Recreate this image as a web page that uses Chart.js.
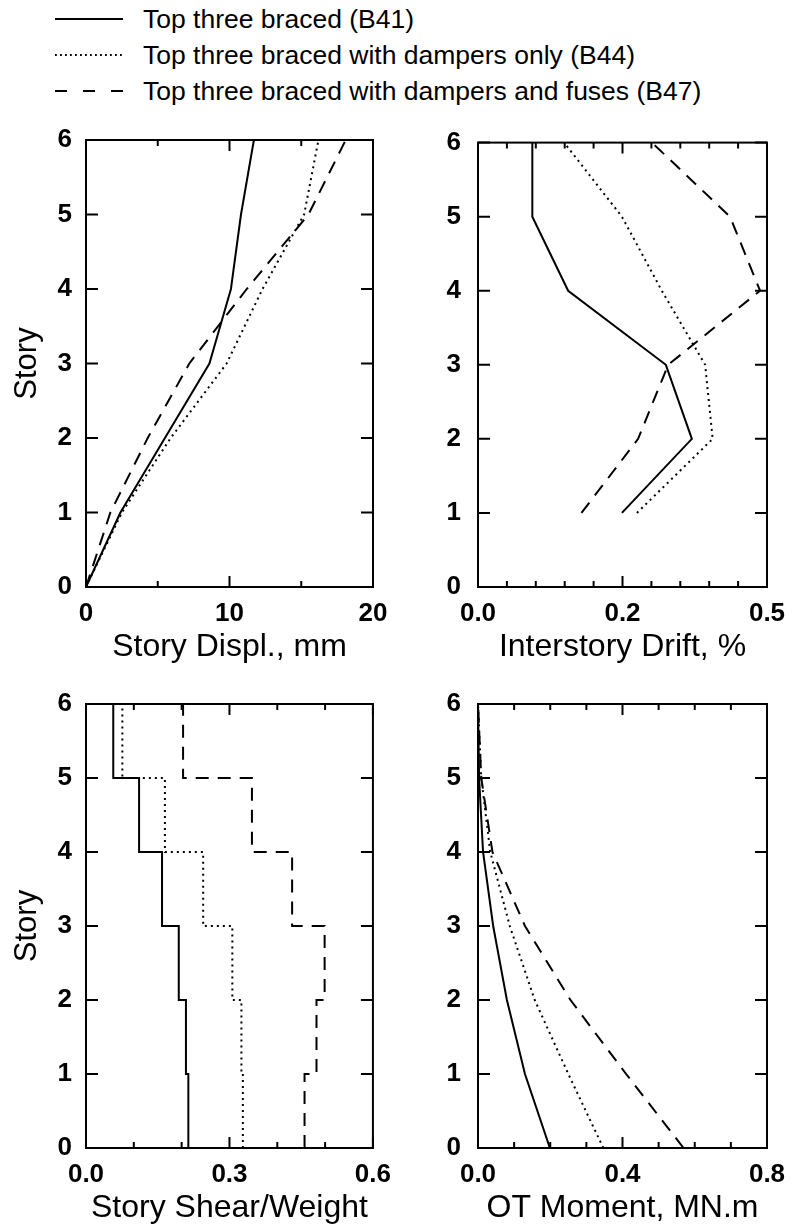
<!DOCTYPE html>
<html>
<head>
<meta charset="utf-8">
<script src="https://cdn.jsdelivr.net/npm/chart.js@4.4.1/dist/chart.umd.min.js"></script>
<style>
  body { margin: 0; background: #fff; width: 792px; height: 1231px; position: relative; overflow: hidden;
         font-family: "Liberation Sans", Arial, sans-serif; }
  canvas { position: absolute; }
  .row { position: absolute; left: 55px; height: 30px; display: flex; align-items: center;
         font-size: 26.5px; color: #000; white-space: nowrap; }
  .row svg { margin-right: 20px; }
</style>
</head>
<body>
<div class="row" style="top:4px"><svg width="68" height="6"><line x1="0" y1="3" x2="68" y2="3" stroke="#000" stroke-width="1.8"/></svg>Top three braced (B41)</div>
<div class="row" style="top:40px"><svg width="68" height="6"><line x1="0" y1="3" x2="68" y2="3" stroke="#000" stroke-width="1.8" stroke-dasharray="1.8,3.2"/></svg>Top three braced with dampers only (B44)</div>
<div class="row" style="top:76px"><svg width="68" height="6"><line x1="0" y1="3" x2="68" y2="3" stroke="#000" stroke-width="1.8" stroke-dasharray="12,16"/></svg>Top three braced with dampers and fuses (B47)</div>

<canvas id="displ" width="396" height="560" style="left:0;top:110px"></canvas>
<canvas id="drift" width="396" height="560" style="left:396px;top:110px"></canvas>
<canvas id="shear" width="396" height="561" style="left:0;top:670px"></canvas>
<canvas id="moment" width="396" height="561" style="left:396px;top:670px"></canvas>

<script>
// stories (floor levels)
const stories = [0, 1, 2, 3, 4, 5, 6];
const storyLabels = ["0", "1", "2", "3", "4", "5", "6"];

// story displacement, mm (levels 0..6)
const displB41 = [0, 2.4, 5.5, 8.6, 10.1, 10.8, 11.7];
const displB44 = [0, 2.5, 5.9, 9.8, 12.3, 15.2, 16.2];
const displB47 = [0, 1.7, 4.3, 7.2, 11.2, 15.5, 18.1];

// interstory drift, % (stories 1..6)
const driftStories = [1, 2, 3, 4, 5, 6];
const driftB41 = [0.249, 0.370, 0.325, 0.156, 0.094, 0.094];
const driftB44 = [0.275, 0.406, 0.393, 0.318, 0.249, 0.149];
const driftB47 = [0.179, 0.277, 0.329, 0.488, 0.436, 0.301];

// story shear / weight, per story 1..6 (constant between floors)
const shearB41 = [0.214, 0.209, 0.194, 0.159, 0.111, 0.057];
const shearB44 = [0.328, 0.325, 0.306, 0.245, 0.165, 0.076];
const shearB47 = [0.457, 0.482, 0.499, 0.431, 0.347, 0.203];

// overturning moment, MN.m (levels 0..6)
const momB41 = [0.199, 0.130, 0.080, 0.042, 0.014, 0.003, 0];
const momB44 = [0.347, 0.250, 0.157, 0.088, 0.034, 0.009, 0];
const momB47 = [0.569, 0.410, 0.256, 0.130, 0.040, 0.009, 0];

// x tick labels
const displTickVals = [0, 10, 20], displTickText = ["0", "10", "20"];
const driftTickVals = [0, 0.25, 0.5], driftTickText = ["0.0", "0.2", "0.5"];
const shearTickVals = [0, 0.3, 0.6], shearTickText = ["0.0", "0.3", "0.6"];
const momTickVals = [0, 0.4, 0.8], momTickText = ["0.0", "0.4", "0.8"];

Chart.defaults.font.family = '"Liberation Sans", Arial, sans-serif';
Chart.defaults.color = '#000';

const styles = [
  { borderDash: [] },
  { borderDash: [2, 4] },
  { borderDash: [13, 9] }
];

function points(xs, ys) {
  return xs.map((v, i) => ({ x: v, y: ys[i] }));
}

// step profile: value v[i] holds from level i to level i+1
function steps(vals) {
  const pts = [];
  vals.forEach((v, i) => { pts.push({ x: v, y: i }); pts.push({ x: v, y: i + 1 }); });
  return pts;
}

function lookup(vals, text) {
  return v => {
    const i = vals.findIndex(m => Math.abs(m - v) < 1e-6);
    return i < 0 ? '' : text[i];
  };
}

// box frame with inward ticks on all four sides
const frameTicks = {
  id: 'frameTicks',
  afterDraw(chart) {
    const { ctx, chartArea: a, scales } = chart;
    ctx.save();
    ctx.strokeStyle = '#000';
    ctx.lineWidth = 2;
    ctx.beginPath();
    scales.x.ticks.forEach(t => {
      const px = scales.x.getPixelForValue(t.value);
      const len = t.label ? 11 : 6;
      ctx.moveTo(px, a.bottom); ctx.lineTo(px, a.bottom - len);
      ctx.moveTo(px, a.top); ctx.lineTo(px, a.top + len);
    });
    scales.y.ticks.forEach(t => {
      const py = scales.y.getPixelForValue(t.value);
      ctx.moveTo(a.left, py); ctx.lineTo(a.left + 12, py);
      ctx.moveTo(a.right, py); ctx.lineTo(a.right - 12, py);
    });
    ctx.stroke();
    ctx.strokeRect(a.left, a.top, a.right - a.left, a.bottom - a.top);
    ctx.restore();
  }
};

function makeChart(id, box, plot, series, x, xTitle, yTitle) {
  const canvas = document.getElementById(id);
  return new Chart(canvas, {
    type: 'scatter',
    data: {
      datasets: series.map((d, i) => ({
        data: d,
        showLine: true,
        pointRadius: 0,
        borderColor: '#000',
        borderWidth: 2,
        borderDash: styles[i].borderDash,
        fill: false
      }))
    },
    options: {
      responsive: false,
      animation: false,
      devicePixelRatio: 1,
      layout: { padding: { top: plot.t - box.top, right: box.left + box.w - plot.r, left: 0, bottom: 0 } },
      plugins: { legend: { display: false }, tooltip: { enabled: false } },
      scales: {
        x: {
          type: 'linear', min: x.min, max: x.max,
          afterFit: s => { s.height = box.top + box.h - plot.b; },
          // invisible tick marks, only used to push the labels down
          grid: { drawOnChartArea: false, drawTicks: true, tickLength: 6, color: 'rgba(0,0,0,0)' },
          border: { display: false },
          ticks: { stepSize: x.step, autoSkip: false, maxRotation: 0, padding: 5,
                   font: { size: 26, weight: 'bold' }, callback: lookup(x.vals, x.text) },
          title: { display: true, text: xTitle, font: { size: 32 }, padding: { top: 0, bottom: 4 } }
        },
        y: {
          type: 'linear', min: 0, max: 6,
          afterFit: s => { s.width = plot.l - box.left; },
          grid: { display: false, drawTicks: false },
          border: { display: false },
          ticks: { stepSize: 1, padding: yTitle ? 14 : 17, font: { size: 26, weight: 'bold' },
                   callback: v => storyLabels[stories.indexOf(v)] ?? '' },
          title: { display: !!yTitle, text: yTitle || '', font: { size: 31 }, padding: { top: 9, bottom: 0 } }
        }
      }
    },
    plugins: [frameTicks]
  });
}

makeChart('displ', { left: 0, top: 110, w: 396, h: 560 }, { l: 86, t: 140, r: 373, b: 587 },
  [points(displB41, stories), points(displB44, stories), points(displB47, stories)],
  { min: 0, max: 20, step: 5, vals: displTickVals, text: displTickText },
  'Story Displ., mm', 'Story');

makeChart('drift', { left: 396, top: 110, w: 396, h: 560 }, { l: 478, t: 140, r: 767, b: 587 },
  [points(driftB41, driftStories), points(driftB44, driftStories), points(driftB47, driftStories)],
  { min: 0, max: 0.5, step: 0.05, vals: driftTickVals, text: driftTickText },
  'Interstory Drift, %', null);

makeChart('shear', { left: 0, top: 670, w: 396, h: 561 }, { l: 86, t: 704, r: 373, b: 1148 },
  [steps(shearB41), steps(shearB44), steps(shearB47)],
  { min: 0, max: 0.6, step: 0.1, vals: shearTickVals, text: shearTickText },
  'Story Shear/Weight', 'Story');

makeChart('moment', { left: 396, top: 670, w: 396, h: 561 }, { l: 478, t: 704, r: 767, b: 1148 },
  [points(momB41, stories), points(momB44, stories), points(momB47, stories)],
  { min: 0, max: 0.8, step: 0.1, vals: momTickVals, text: momTickText },
  'OT Moment, MN.m', null);
</script>
</body>
</html>
